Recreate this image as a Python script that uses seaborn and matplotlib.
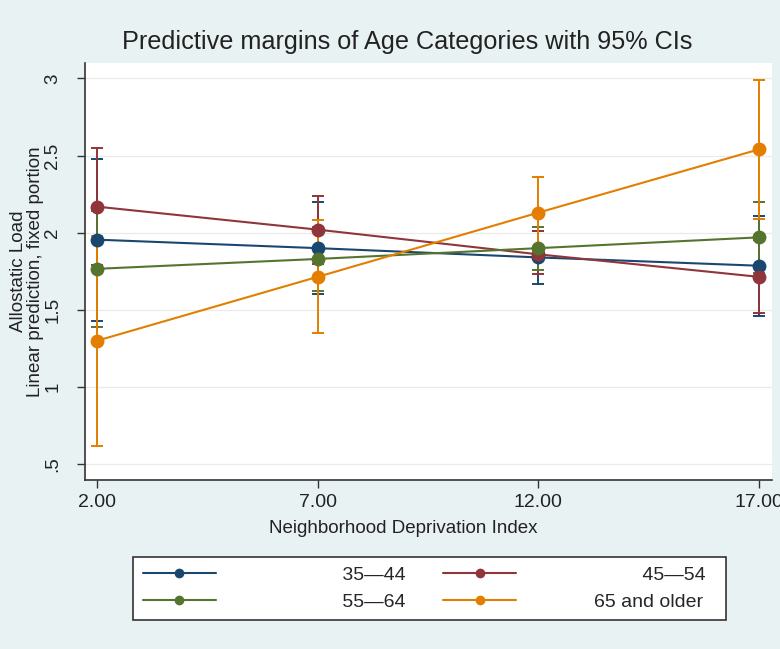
import numpy as np
import pandas as pd
import matplotlib
matplotlib.use("Agg")
import matplotlib.pyplot as plt
import seaborn as sns
from matplotlib.lines import Line2D

# ---- data ----
nd_index = [2, 7, 12, 17]
x_tick_labels = ["2.00", "7.00", "12.00", "17.00"]
y_ticks = [0.5, 1, 1.5, 2, 2.5, 3]
y_tick_labels = [".5", "1", "1.5", "2", "2.5", "3"]
age_groups = ["35—44", "45—54", "55—64", "65 and older"]

mean_35_44 = [1.955, 1.90, 1.84, 1.786]
low_35_44 = [1.43, 1.60, 1.67, 1.46]
high_35_44 = [2.48, 2.20, 2.01, 2.11]

mean_45_54 = [2.169, 2.02, 1.86, 1.714]
low_45_54 = [1.79, 1.80, 1.73, 1.48]
high_45_54 = [2.55, 2.24, 2.01, 1.95]

mean_55_64 = [1.766, 1.83, 1.90, 1.97]
low_55_64 = [1.39, 1.62, 1.76, 1.74]
high_55_64 = [2.14, 2.04, 2.04, 2.20]

mean_65_up = [1.30, 1.714, 2.13, 2.54]
low_65_up = [0.62, 1.35, 1.90, 2.09]
high_65_up = [1.98, 2.08, 2.36, 2.99]

colors = ["#1a476f", "#90353b", "#55752f", "#e37e00"]

means = [mean_35_44, mean_45_54, mean_55_64, mean_65_up]
lows = [low_35_44, low_45_54, low_55_64, low_65_up]
highs = [high_35_44, high_45_54, high_55_64, high_65_up]

rows = []
for g, m, lo, hi in zip(age_groups, means, lows, highs):
    for xv, mv, lv, hv in zip(nd_index, m, lo, hi):
        rows.append({"ndi": xv, "margin": mv, "lo": lv, "hi": hv, "age": g})
df = pd.DataFrame(rows)

# ---- style ----
bg = "#e9f2f3"
sns.set_theme(style="white")
plt.rcParams["font.family"] = ["Liberation Sans", "DejaVu Sans"]

fig = plt.figure(figsize=(7.8, 6.49), dpi=100, facecolor=bg)
ax = fig.add_axes([0.109, 0.260, 0.881, 0.643])
ax.set_facecolor("white")

# confidence intervals
for g, c in zip(age_groups, colors):
    sub = df[df["age"] == g]
    ax.errorbar(sub["ndi"], sub["margin"],
                yerr=[sub["margin"] - sub["lo"], sub["hi"] - sub["margin"]],
                fmt="none", ecolor=c, elinewidth=1.4, capsize=4, capthick=1.4, zorder=2)

sns.lineplot(data=df, x="ndi", y="margin", hue="age", hue_order=age_groups,
             palette=colors, marker="o", markersize=10, markeredgewidth=0,
             linewidth=1.5, legend=False, ax=ax, zorder=3)

ax.set_xlim(1.73, 17.3)
ax.set_ylim(0.396, 3.10)
ax.set_xticks(nd_index)
ax.set_xticklabels(x_tick_labels, fontsize=14)
ax.set_yticks(y_ticks)
ax.set_yticklabels(y_tick_labels, fontsize=13.5, rotation=90, va="center")
ax.tick_params(axis="both", direction="out", length=6, width=1, color="#333333",
               colors="#222222", left=True, bottom=True)
ax.tick_params(axis="y", pad=11)
ax.tick_params(axis="x", pad=4)
ax.grid(axis="y", color="#eaeaea", linewidth=0.9)
ax.grid(axis="x", visible=False)
for s in ["top", "right"]:
    ax.spines[s].set_visible(False)
for s in ["left", "bottom"]:
    ax.spines[s].set_color("#333333")
    ax.spines[s].set_linewidth(1.2)

ax.set_xlabel("Neighborhood Deprivation Index", fontsize=13.5, color="#222222")
ax.xaxis.set_label_coords(0.463, -0.095)
ax.set_ylabel("Allostatic Load\nLinear prediction, fixed portion", fontsize=13.5,
              color="#222222", linespacing=1.0)
ax.yaxis.set_label_coords(-0.06, 0.5)

fig.text(0.522, 0.936, "Predictive margins of Age Categories with 95% CIs",
         ha="center", va="center", fontsize=18.2, color="#222222")

# legend (Stata-like, labels right aligned via padding)
pad_labels = {"35—44": "         35—44", "55—64": "         55—64",
              "45—54": "         45—54  ", "65 and older": "65 and older  "}
order = [0, 2, 1, 3]
handles = [Line2D([], [], color=colors[i], marker="o", markersize=7,
                  markeredgewidth=0, linewidth=1.5) for i in order]
labels = [pad_labels[age_groups[i]] for i in order]
leg = fig.legend(handles, labels, ncol=2, loc="center", bbox_to_anchor=(0.551, 0.093),
                 fontsize=14, frameon=True, fancybox=False, edgecolor="#333333",
                 facecolor="white", framealpha=1, handlelength=3.75, handletextpad=4.0,
                 columnspacing=1.96, borderpad=0.5, labelspacing=0.45)
leg.get_frame().set_linewidth(1.2)

fig.savefig("out.png", dpi=100, facecolor=bg)
